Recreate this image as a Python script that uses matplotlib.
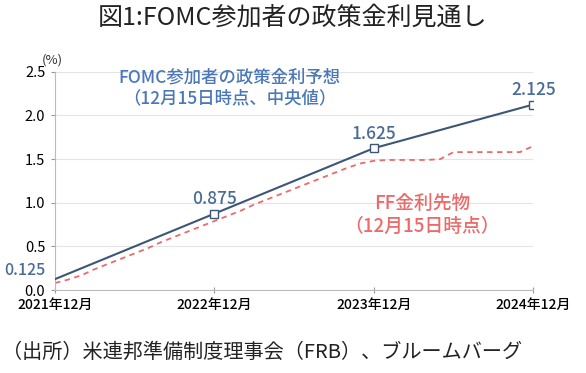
import matplotlib.pyplot as plt

plt.rcParams['font.family'] = ['Noto Sans CJK JP', 'DejaVu Sans']

# FOMC median projection (year-end points)
fomc_x = [0, 12, 24, 36]
fomc_y = [0.125, 0.875, 1.625, 2.125]
fomc_labels = ['0.125', '0.875', '1.625', '2.125']

# FF futures implied path, monthly from 2021-12
ff_y = [0.08, 0.12, 0.17, 0.24, 0.30, 0.36, 0.42, 0.48, 0.55, 0.61, 0.67, 0.73,
        0.79, 0.85, 0.91, 0.98, 1.04, 1.10, 1.16, 1.22, 1.28, 1.34, 1.40, 1.45,
        1.48, 1.49, 1.49, 1.49, 1.49, 1.50, 1.58, 1.58, 1.58, 1.58, 1.58, 1.58, 1.65]
ff_x = list(range(len(ff_y)))

xtick_pos = [0, 12, 24, 36]
xtick_labels = ['2021年12月', '2022年12月', '2023年12月', '2024年12月']

line_c = '#3d5675'
label_c = '#4a6c96'
fomc_txt_c = '#4a78b8'
ff_c = '#ec6a6a'

fig = plt.figure(figsize=(5.86, 3.73), dpi=100)
ax = fig.add_axes([0.094, 0.2225, 0.816, 0.585])

ax.plot(ff_x, ff_y, color=ff_c, lw=1.3, ls=(0, (3, 2.5)), zorder=2)
ax.plot(fomc_x, fomc_y, color=line_c, lw=1.5, zorder=3)
ax.plot(fomc_x[1:], fomc_y[1:], ls='none', marker='s', ms=6,
        mfc='white', mec=line_c, mew=1.0, zorder=4)

for i, (x, y, t) in enumerate(zip(fomc_x, fomc_y, fomc_labels)):
    if i == 0:
        ax.annotate(t, (x, y), xytext=(-22, 0), textcoords='offset points',
                    ha='center', va='bottom', color=label_c, fontsize=11.5,
                    fontweight='medium')
    else:
        ax.annotate(t, (x, y), xytext=(0, 4), textcoords='offset points',
                    ha='center', va='bottom', color=label_c, fontsize=12.5,
                    fontweight='medium')

fig.text(0.392, 0.764, 'FOMC参加者の政策金利予想\n（12月15日時点、中央値）',
         ha='center', va='center', color=fomc_txt_c,
         fontsize=12.5, fontweight='medium', linespacing=1.25)
fig.text(0.72, 0.424, 'FF金利先物\n（12月15日時点）',
         ha='center', va='center', color=ff_c,
         fontsize=13.5, fontweight='medium', linespacing=1.3)

ax.set_xlim(0, 36)
ax.set_ylim(0, 2.5)
ax.set_yticks([0, 0.5, 1.0, 1.5, 2.0, 2.5])
ax.set_yticklabels(['0.0', '0.5', '1.0', '1.5', '2.0', '2.5'])
ax.set_xticks(xtick_pos)
ax.set_xticklabels(xtick_labels)
ax.tick_params(axis='y', labelsize=10.5, length=3, color='#999999', pad=4)
ax.tick_params(axis='x', labelsize=10, length=4, direction='inout',
               color='#999999', pad=4)
for lab in ax.get_xticklabels():
    lab.set_fontweight('medium')
ax.grid(axis='y', color='#e4e4e4', lw=0.8)
ax.set_axisbelow(True)
for s in ['top', 'right']:
    ax.spines[s].set_visible(False)
for s in ['left', 'bottom']:
    ax.spines[s].set_color('#bbbbbb')
ax.spines['bottom'].set_zorder(1)

fig.text(0.072, 0.84, '(%)', ha='left', va='center',
         fontsize=9.5, color='#333333')

fig.text(0.5, 0.952, '図1:FOMC参加者の政策金利見通し', ha='center', va='center',
         fontsize=18, color='#222222')
fig.text(0.003, 0.055, '（出所）米連邦準備制度理事会（FRB）、ブルームバーグ',
         ha='left', va='center', fontsize=14.5, color='#222222')

fig.savefig('out.png', dpi=100)
